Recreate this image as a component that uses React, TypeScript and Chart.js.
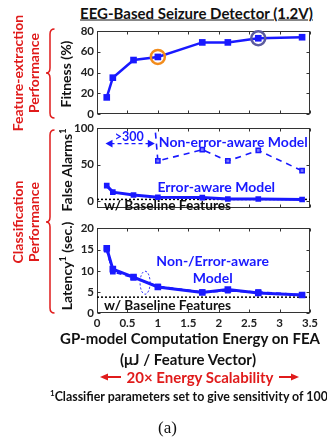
import React, { useEffect, useRef } from "react";
import { Chart, registerables } from "chart.js";
Chart.register(...registerables);

// ---------- data ----------
const energy = [0.16, 0.26, 0.6, 1.0, 1.73, 2.15, 2.65, 3.37];
const fitness = [16, 35, 52, 55, 69, 69, 73, 74];
const falseAlarmsErrorAware = [21, 12, 8, 5, 4.5, 2.5, 2.5, 1.8];
// first three values are off-scale (">300")
const falseAlarmsNonErrorAware = [450, 450, 450, 55, 70.5, 55, 69.5, 41.5];
const latencyErrorAware = [15.3, 10.4, 8.5, 6.2, 4.9, 5.6, 4.8, 4.3];
const latencyNonErrorAware = [15.0, 9.8, 8.4, 6.3, 5.0, 5.3, 5.0, 4.3];
const baselineFalseAlarms = 2;
const baselineLatency = 3.8;
const xRange = [0, 3.5];
const xTicks = [0, 0.5, 1, 1.5, 2, 2.5, 3, 3.5];
const fitnessTicks = [0, 20, 40, 60, 80];
const falseAlarmTicks = [0, 50, 100];
const latencyTicks = [0, 5, 10, 15, 20];
const orangeIndex = 3;
const navyIndex = 6;
const over300Arrow = { from: 0.14, to: 0.95, y: 79 };

const BLUE = "rgb(25,25,255)";
const RED = "#e01b1b";
const FONT = "Lato, 'Open Sans', sans-serif";

const pts = (xs: number[], ys: number[]) => xs.map((x, i) => ({ x, y: ys[i] }));

function framePlugin(draw?: (c: any) => void) {
  return {
    id: "frame",
    beforeDatasetsDraw(chart: any) {
      const { ctx, chartArea: a, scales } = chart;
      ctx.save();
      ctx.strokeStyle = "#333";
      ctx.lineWidth = 1;
      const L = Math.round(a.left) + 0.5, R = Math.round(a.right) - 0.5;
      const T = Math.round(a.top) + 0.5, B = Math.round(a.bottom) - 0.5;
      ctx.strokeRect(L, T, R - L, B - T);
      const tl = 3;
      ctx.beginPath();
      for (const t of scales.x.ticks) {
        const px = Math.round(scales.x.getPixelForValue(t.value)) + 0.5;
        ctx.moveTo(px, B); ctx.lineTo(px, B - tl);
        ctx.moveTo(px, T); ctx.lineTo(px, T + tl);
      }
      for (const t of scales.y.ticks) {
        const py = Math.round(scales.y.getPixelForValue(t.value)) + 0.5;
        ctx.moveTo(L, py); ctx.lineTo(L + tl, py);
        ctx.moveTo(R, py); ctx.lineTo(R - tl, py);
      }
      ctx.stroke();
      ctx.restore();
    },
    afterDatasetsDraw(chart: any) {
      if (!draw) return;
      chart.ctx.save();
      draw(chart);
      chart.ctx.restore();
    },
  };
}

function text(chart: any, s: string, x: number, y: number, font: string, color: string) {
  const ctx = chart.ctx;
  ctx.font = font;
  ctx.fillStyle = color;
  ctx.textAlign = "center";
  ctx.textBaseline = "middle";
  ctx.fillText(s, chart.scales.x.getPixelForValue(x), chart.scales.y.getPixelForValue(y));
}

function makeConfig(opts: {
  datasets: any[];
  yMin: number;
  yMax: number;
  yTicks: number[];
  showX: boolean;
  padTop: number;
  padBottom: number;
  xHeight: number;
  draw?: (c: any) => void;
}) {
  return {
    type: "line",
    data: { datasets: opts.datasets },
    options: {
      animation: false,
      responsive: false,
      events: [],
      layout: { padding: { left: 0, right: 17, top: opts.padTop, bottom: opts.padBottom } },
      plugins: { legend: { display: false }, tooltip: { enabled: false } },
      scales: {
        x: {
          type: "linear",
          min: xRange[0],
          max: xRange[1],
          grid: { display: false, drawTicks: false },
          border: { display: false },
          ticks: {
            display: opts.showX,
            padding: 3,
            color: "#222",
            font: { family: FONT, size: 11.5, weight: "bold" },
            callback: (v: any) => String(v),
          },
          afterBuildTicks: (s: any) => { s.ticks = xTicks.map((v) => ({ value: v })); },
          afterFit: (s: any) => { s.height = opts.xHeight; },
        },
        y: {
          type: "linear",
          min: opts.yMin,
          max: opts.yMax,
          grid: { display: false, drawTicks: false },
          border: { display: false },
          ticks: {
            padding: 3,
            color: "#222",
            font: { family: FONT, size: 11.5, weight: "bold" },
            callback: (v: any) => String(v),
          },
          afterBuildTicks: (s: any) => { s.ticks = opts.yTicks.map((v) => ({ value: v })); },
          afterFit: (s: any) => { s.width = 97; },
        },
      },
    },
    plugins: [framePlugin(opts.draw)],
  };
}

function baseline(value: number) {
  return {
    data: [{ x: xRange[0], y: value }, { x: xRange[1], y: value }],
    borderColor: "#000",
    borderWidth: 1.5,
    borderDash: [2, 2],
    pointRadius: 0,
    order: 5,
  };
}

function drawArrowHead(ctx: any, x: number, y: number, dir: number, size: number) {
  ctx.beginPath();
  ctx.moveTo(x, y);
  ctx.lineTo(x - dir * size, y - size * 0.55);
  ctx.lineTo(x - dir * size, y + size * 0.55);
  ctx.closePath();
  ctx.fill();
}

export default function App() {
  const c1 = useRef<HTMLCanvasElement>(null);
  const c2 = useRef<HTMLCanvasElement>(null);
  const c3 = useRef<HTMLCanvasElement>(null);

  useEffect(() => {
    const charts: Chart[] = [];

    charts.push(new Chart(c1.current as any, makeConfig({
      datasets: [{
        data: pts(energy, fitness),
        borderColor: BLUE,
        backgroundColor: BLUE,
        borderWidth: 2.5,
        pointStyle: "rect",
        pointRadius: 4.7,
        pointBorderWidth: 0,
      }],
      yMin: 0, yMax: 80, yTicks: fitnessTicks, showX: false,
      padTop: 11, padBottom: 18, xHeight: 0,
      draw: (chart: any) => {
        const ctx = chart.ctx, x = chart.scales.x, y = chart.scales.y;
        const ring = (i: number, col: string) => {
          ctx.beginPath();
          ctx.strokeStyle = col;
          ctx.lineWidth = 2.5;
          ctx.arc(x.getPixelForValue(energy[i]), y.getPixelForValue(fitness[i]), 7, 0, Math.PI * 2);
          ctx.stroke();
        };
        ring(orangeIndex, "#f28c1c");
        ring(navyIndex, "#5b5ba0");
      },
    }) as any));

    charts.push(new Chart(c2.current as any, makeConfig({
      datasets: [
        {
          data: pts(energy, falseAlarmsNonErrorAware),
          borderColor: BLUE,
          backgroundColor: "rgb(120,120,255)",
          borderWidth: 1.6,
          borderDash: [6, 5],
          pointStyle: "rect",
          pointRadius: 3,
          pointBorderWidth: 1.5,
          order: 2,
        },
        {
          data: pts(energy, falseAlarmsErrorAware),
          borderColor: BLUE,
          backgroundColor: BLUE,
          borderWidth: 3,
          pointStyle: "rect",
          pointRadius: 4,
          pointBorderWidth: 0,
          order: 1,
        },
        baseline(baselineFalseAlarms),
      ],
      yMin: -10, yMax: 100, yTicks: falseAlarmTicks, showX: false,
      padTop: 10.3, padBottom: 5.7, xHeight: 0,
      draw: (chart: any) => {
        const ctx = chart.ctx, x = chart.scales.x, y = chart.scales.y;
        text(chart, "Non-error-aware Model", 2.24, 80.5, `bold 14px ${FONT}`, BLUE);
        text(chart, "Error-aware Model", 1.96, 19, `bold 14px ${FONT}`, BLUE);
        text(chart, ">300", 0.53, 87.5, `bold 12.5px ${FONT}`, BLUE);
        text(chart, "w/ Baseline Features", 1.16, -6.5, `bold 13.7px ${FONT}`, "#111");
        const x0 = x.getPixelForValue(over300Arrow.from), x1 = x.getPixelForValue(over300Arrow.to);
        const py = y.getPixelForValue(over300Arrow.y);
        ctx.strokeStyle = BLUE;
        ctx.fillStyle = BLUE;
        ctx.lineWidth = 1.3;
        ctx.setLineDash([4, 3]);
        ctx.beginPath();
        ctx.moveTo(x0 + 5, py); ctx.lineTo(x1 - 5, py);
        ctx.stroke();
        ctx.setLineDash([]);
        drawArrowHead(ctx, x0, py, -1, 7);
        drawArrowHead(ctx, x1, py, 1, 7);
      },
    }) as any));

    charts.push(new Chart(c3.current as any, makeConfig({
      datasets: [
        {
          data: pts(energy, latencyNonErrorAware),
          borderColor: BLUE,
          backgroundColor: BLUE,
          borderWidth: 2,
          borderDash: [5, 4],
          pointStyle: "rect",
          pointRadius: 4,
          pointBorderWidth: 0,
          order: 2,
        },
        {
          data: pts(energy, latencyErrorAware),
          borderColor: BLUE,
          backgroundColor: BLUE,
          borderWidth: 3,
          pointStyle: "rect",
          pointRadius: 4.7,
          pointBorderWidth: 0,
          order: 1,
        },
        baseline(baselineLatency),
      ],
      yMin: 0, yMax: 20, yTicks: latencyTicks, showX: true,
      padTop: 10.3, padBottom: 0, xHeight: 22.7,
      draw: (chart: any) => {
        const ctx = chart.ctx, x = chart.scales.x, y = chart.scales.y;
        text(chart, "Non-/Error-aware", 1.9, 12.1, `bold 14px ${FONT}`, BLUE);
        text(chart, "Model", 1.9, 8.1, `bold 14px ${FONT}`, BLUE);
        text(chart, "w/ Baseline Features", 1.16, 1.8, `bold 13.7px ${FONT}`, "#111");
        ctx.strokeStyle = BLUE;
        ctx.lineWidth = 1;
        ctx.setLineDash([2, 2]);
        ctx.beginPath();
        ctx.ellipse(x.getPixelForValue(0.79), y.getPixelForValue(7.2), 5, 11.5, 0, 0, Math.PI * 2);
        ctx.stroke();
        ctx.setLineDash([]);
      },
    }) as any));

    return () => charts.forEach((c) => c.destroy());
  }, []);

  const abs = (left: number, top: number, extra: any = {}) => ({
    position: "absolute" as const,
    left,
    top,
    transform: "translate(-50%,-50%)",
    whiteSpace: "nowrap" as const,
    fontFamily: FONT,
    fontWeight: 700,
    lineHeight: 1,
    ...extra,
  });
  const rot = (left: number, top: number, extra: any = {}) =>
    abs(left, top, { transform: "translate(-50%,-50%) rotate(-90deg)", ...extra });

  const bracePath = (x: number, top: number, tip: number, bottom: number) =>
    `M ${x + 6} ${top} Q ${x + 1.5} ${top} ${x + 1.5} ${top + 5} L ${x + 1.5} ${tip - 5} Q ${x + 1.5} ${tip} ${x - 2.5} ${tip} Q ${x + 1.5} ${tip} ${x + 1.5} ${tip + 5} L ${x + 1.5} ${bottom - 5} Q ${x + 1.5} ${bottom} ${x + 6} ${bottom}`;

  return (
    <div style={{ position: "fixed", left: 0, top: 0, width: 327, height: 445, overflow: "hidden", background: "#fff" }}>
      <div style={abs(196.5, 13, { fontSize: 15, textDecoration: "underline", color: "#111" })}>
        EEG-Based Seizure Detector (1.2V)
      </div>

      <canvas ref={c1} width={327} height={112} style={{ position: "absolute", left: 0, top: 20 }} />
      <canvas ref={c2} width={327} height={100} style={{ position: "absolute", left: 0, top: 118 }} />
      <canvas ref={c3} width={327} height={118} style={{ position: "absolute", left: 0, top: 218 }} />

      {/* axis titles */}
      <div style={rot(66, 74, { fontSize: 14, color: "#111" })}>Fitness (%)</div>
      <div style={rot(66, 170, { fontSize: 14, color: "#111" })}>
        False Alarms<sup style={{ fontSize: 9 }}>1</sup>
      </div>
      <div style={rot(66, 266, { fontSize: 14, color: "#111" })}>
        Latency<sup style={{ fontSize: 9 }}>1</sup> (sec.)
      </div>

      {/* red group labels */}
      <div style={rot(26, 73, { fontSize: 14, color: RED, textAlign: "center", lineHeight: "16px" })}>
        Feature-extraction<br />Performance
      </div>
      <div style={rot(26, 222, { fontSize: 14, color: RED, textAlign: "center", lineHeight: "16px" })}>
        Classification<br />Performance
      </div>
      <svg width={327} height={445} style={{ position: "absolute", left: 0, top: 0, pointerEvents: "none" }}>
        <path d={bracePath(48.5, 29, 73, 118)} fill="none" stroke={RED} strokeWidth={1.5} />
        <path d={bracePath(48.5, 130, 222, 313)} fill="none" stroke={RED} strokeWidth={1.5} />
        <line x1={106} y1={377} x2={121} y2={377} stroke={RED} strokeWidth={2} />
        <polygon points="100,377 108,373.5 108,380.5" fill={RED} />
        <line x1={279} y1={377} x2={293} y2={377} stroke={RED} strokeWidth={2} />
        <polygon points="299,377 291,373.5 291,380.5" fill={RED} />
      </svg>

      {/* x axis title */}
      <div style={abs(190, 338, { fontSize: 15, color: "#111" })}>GP-model Computation Energy on FEA</div>
      <div style={abs(188, 359, { fontSize: 15, color: "#111" })}>(μJ / Feature Vector)</div>
      <div style={abs(200, 377, { fontSize: 15, color: RED })}>20× Energy Scalability</div>
      <div style={{ position: "absolute", left: 50, top: 389, whiteSpace: "nowrap", fontFamily: FONT, fontWeight: 700, fontSize: 12.4, color: "#111", lineHeight: 1 }}>
        <sup style={{ fontSize: 8 }}>1</sup>Classifier parameters set to give sensitivity of 100%
      </div>
      <div style={abs(167.5, 427, { fontFamily: "'Liberation Serif', 'DejaVu Serif', serif", fontWeight: 400, fontSize: 17, color: "#111" })}>
        (a)
      </div>
    </div>
  );
}
